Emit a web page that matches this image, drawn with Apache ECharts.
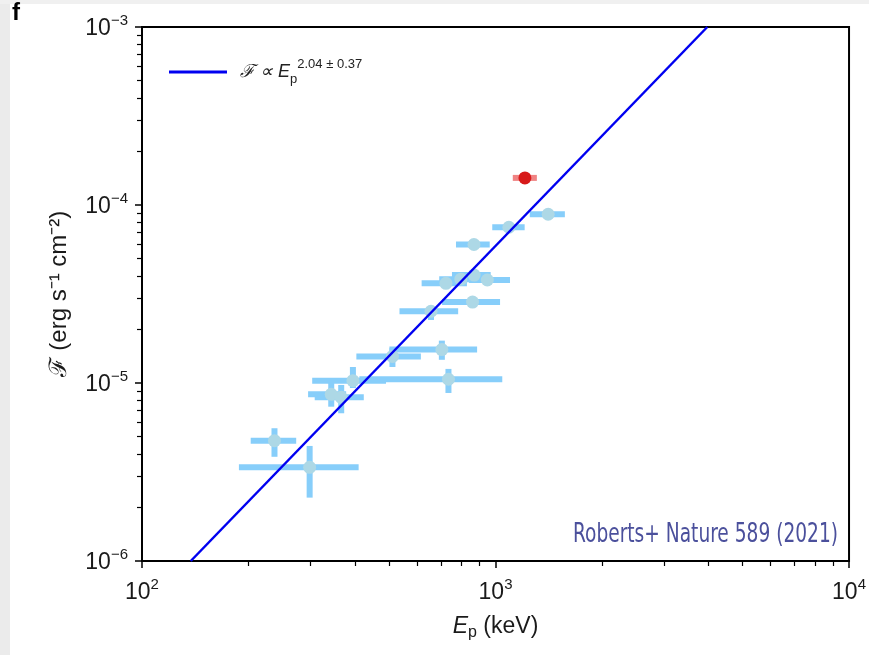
<!DOCTYPE html>
<html><head><meta charset="utf-8">
<script src="https://cdn.jsdelivr.net/npm/echarts@6/dist/echarts.min.js"></script>
<style>html,body{margin:0;padding:0;background:#fff}#c{width:869px;height:655px}</style>
</head><body><div id="c"></div>
<script>
// ---- data ----
const ep     = [1409, 1091, 869, 724, 798, 870, 948, 861, 657, 705, 511, 736, 395, 343, 366, 237, 298];
const epLo   = [1250, 979, 773, 618, 693, 753, 841, 706, 535, 501, 404, 412, 303, 295, 308, 203, 188];
const epHi   = [1571, 1209, 963, 830, 946, 969, 1099, 1030, 784, 887, 615, 1045, 490, 378, 424, 273, 410];
const flux   = [8.87e-5, 7.5e-5, 6.0e-5, 3.63e-5, 3.83e-5, 4.04e-5, 3.79e-5, 2.85e-5, 2.53e-5, 1.54e-5, 1.41e-5, 1.05e-5, 1.03e-5, 8.64e-6, 8.31e-6, 4.74e-6, 3.36e-6];
const fluxLo = [8.5e-5, 7.2e-5, 5.7e-5, 3.45e-5, 3.65e-5, 3.85e-5, 3.6e-5, 2.72e-5, 2.26e-5, 1.35e-5, 1.23e-5, 8.79e-6, 9.37e-6, 7.36e-6, 6.76e-6, 3.85e-6, 2.27e-6];
const fluxHi = [9.2e-5, 7.8e-5, 6.3e-5, 3.8e-5, 4.0e-5, 4.25e-5, 3.98e-5, 3.0e-5, 2.65e-5, 1.73e-5, 1.57e-5, 1.20e-5, 1.23e-5, 1.0e-5, 9.75e-6, 5.57e-6, 4.43e-6];

const redEp = [1211], redEpLo = [1119], redEpHi = [1309];
const redFlux = [1.42e-4], redFluxLo = [1.36e-4], redFluxHi = [1.48e-4];

const fitE = [137.4, 3972];
const fitF = [1e-6, 1e-3];

const xTicks = [100, 1000, 10000];
const xMinor = [200,300,400,500,600,700,800,900,2000,3000,4000,5000,6000,7000,8000,9000];
const yTicks = [1e-6, 1e-5, 1e-4, 1e-3];
const yMinor = [2e-6,3e-6,4e-6,5e-6,6e-6,7e-6,8e-6,9e-6,2e-5,3e-5,4e-5,5e-5,6e-5,7e-5,8e-5,9e-5,2e-4,3e-4,4e-4,5e-4,6e-4,7e-4,8e-4,9e-4];

const legendText = 'ℱ ∝ E';
const noteText = 'Roberts+ Nature 589 (2021)';

// ---- build ----
const FONT = '"Liberation Sans", Arial, Helvetica, sans-serif';
function pow10Label(v){
  const e = Math.round(Math.log10(v));
  return '{n|10}{s|' + String(e).replace('-', '−') + '}';
}
const tickRich = {
  n: {fontSize: 23, color: '#1a1a1a', fontFamily: FONT, lineHeight: 27, verticalAlign: 'bottom'},
  s: {fontSize: 15, color: '#1a1a1a', fontFamily: FONT, lineHeight: 15, verticalAlign: 'top'}
};

const blueErr = ep.map((v, i) => [v, epLo[i], epHi[i], flux[i], fluxLo[i], fluxHi[i]]);
const redErr = redEp.map((v, i) => [v, redEpLo[i], redEpHi[i], redFlux[i], redFluxLo[i], redFluxHi[i]]);

function errRender(color){
  return function(params, api){
    const c = api.coord([api.value(0), api.value(3)]);
    const l = api.coord([api.value(1), api.value(3)]);
    const r = api.coord([api.value(2), api.value(3)]);
    const b = api.coord([api.value(0), api.value(4)]);
    const t = api.coord([api.value(0), api.value(5)]);
    const st = {stroke: color, lineWidth: 6, lineCap: 'butt'};
    return {type: 'group', children: [
      {type: 'line', shape: {x1: l[0], y1: c[1], x2: r[0], y2: c[1]}, style: st},
      {type: 'line', shape: {x1: c[0], y1: b[1], x2: c[0], y2: t[1]}, style: st}
    ]};
  };
}

// measure condensed note text to fit reference width
const NOTE_FS = 27;
const cv = document.createElement('canvas').getContext('2d');
cv.font = NOTE_FS + 'px "DejaVu Sans Condensed", "DejaVu Sans"';
const noteW = cv.measureText(noteText).width;
const noteScale = 265 / noteW;

const chart = echarts.init(document.getElementById('c'), null, {renderer: 'canvas'});
const axisCommonLine = {show: true, lineStyle: {color: '#000', width: 2}};
const nameRich = {
  i: {fontSize: 23, fontStyle: 'italic', color: '#1a1a1a', fontFamily: FONT, lineHeight: 28, verticalAlign: 'middle'},
  p: {fontSize: 16, color: '#1a1a1a', fontFamily: FONT, lineHeight: 12, verticalAlign: 'bottom'},
  t: {fontSize: 23, color: '#1a1a1a', fontFamily: FONT, lineHeight: 28, verticalAlign: 'middle'}
};
chart.setOption({
  backgroundColor: '#fff',
  animation: false,
  grid: {left: 142, right: 18, top: 27, bottom: 94, show: true, borderColor: '#000', borderWidth: 2, backgroundColor: 'transparent'},
  legend: {
    left: 164, top: 53, itemWidth: 58, itemHeight: 3, icon: 'rect', data: ['fit'],
    formatter: function(){ return '{f|' + legendText + '}{p|p}{s|2.04 ± 0.37}'; },
    textStyle: {rich: {
      f: {fontSize: 18, fontStyle: 'italic', color: '#222', fontFamily: FONT, lineHeight: 28, verticalAlign: 'middle', padding: [0,0,0,8]},
      p: {fontSize: 13, color: '#222', fontFamily: FONT, lineHeight: 12, verticalAlign: 'bottom'},
      s: {fontSize: 13, color: '#222', fontFamily: FONT, lineHeight: 13, verticalAlign: 'top'}
    }}
  },
  xAxis: [{
    type: 'log', logBase: 10, min: 100, max: 10000,
    name: '{i|E}{p|p}{t| (keV)}', nameLocation: 'middle', nameGap: 52,
    nameTextStyle: {rich: nameRich},
    axisLine: axisCommonLine,
    axisTick: {show: true, inside: false, length: 7, customValues: xTicks, lineStyle: {color: '#000', width: 1.5}},
    axisLabel: {show: true, margin: 16, customValues: xTicks, formatter: pow10Label, rich: tickRich},
    splitLine: {show: false}
  }, {
    type: 'log', logBase: 10, min: 100, max: 10000, position: 'bottom',
    axisLine: {show: false},
    axisTick: {show: true, inside: false, length: 5, customValues: xMinor, lineStyle: {color: '#000', width: 1.2}},
    axisLabel: {show: false}, splitLine: {show: false}
  }],
  yAxis: [{
    type: 'log', logBase: 10, min: 1e-6, max: 1e-3,
    name: 'ℱ (erg s⁻¹ cm⁻²)', nameLocation: 'middle', nameGap: 71, nameRotate: 90,
    nameTextStyle: {fontSize: 24, color: '#1a1a1a', fontFamily: FONT},
    axisLine: axisCommonLine,
    axisTick: {show: true, inside: false, length: 7, customValues: yTicks, lineStyle: {color: '#000', width: 1.5}},
    axisLabel: {show: true, margin: 14, customValues: yTicks, formatter: pow10Label, rich: tickRich},
    splitLine: {show: false}
  }, {
    type: 'log', logBase: 10, min: 1e-6, max: 1e-3, position: 'left',
    axisLine: {show: false},
    axisTick: {show: true, inside: false, length: 5, customValues: yMinor, lineStyle: {color: '#000', width: 1.2}},
    axisLabel: {show: false}, splitLine: {show: false}
  }],
  series: [
    {type: 'custom', name: 'err', data: blueErr, renderItem: errRender('#87cefa'), encode: {x: 0, y: 3}, z: 2, clip: true},
    {type: 'custom', name: 'errRed', data: redErr, renderItem: errRender('rgba(235,90,90,0.75)'), encode: {x: 0, y: 3}, z: 2, clip: true},
    {type: 'scatter', name: 'pts', data: ep.map((v, i) => [v, flux[i]]), symbol: 'circle', symbolSize: 13, itemStyle: {color: '#add8e6', opacity: 1}, z: 3},
    {type: 'scatter', name: 'red', data: redEp.map((v, i) => [v, redFlux[i]]), symbol: 'circle', symbolSize: 13, itemStyle: {color: '#d71a1a', opacity: 1}, z: 3},
    {type: 'line', name: 'fit', data: fitE.map((v, i) => [v, fitF[i]]), showSymbol: false, symbol: 'none', lineStyle: {color: '#0000f0', width: 2.5}, itemStyle: {color: '#0000f0'}, z: 4, clip: true}
  ],
  graphic: [
    {type: 'rect', left: 0, top: 0, shape: {width: 10, height: 655}, style: {fill: '#ebebeb'}, z: -10},
    {type: 'rect', left: 0, top: 0, shape: {width: 869, height: 4}, style: {fill: '#f0f0f0'}, z: -10},
    {type: 'text', left: 12, top: 1, style: {text: 'f', fontSize: 24, fontWeight: 900, fill: '#000', fontFamily: FONT}},
    {type: 'text', right: 31, top: 521, scaleX: noteScale, style: {text: noteText, fontSize: NOTE_FS, fill: '#4b509c', fontFamily: '"DejaVu Sans Condensed", "DejaVu Sans"'}}
  ]
});
</script>
</body></html>
